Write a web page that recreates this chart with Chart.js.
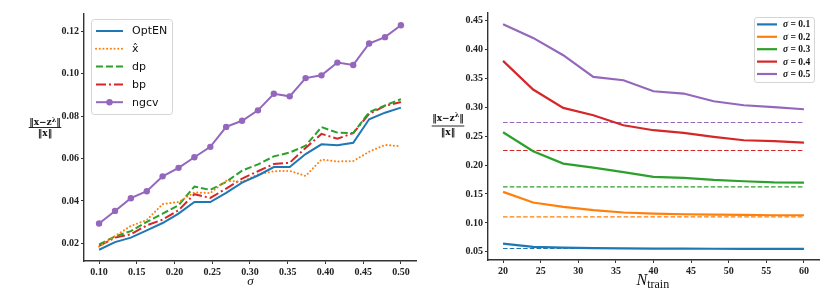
<!DOCTYPE html>
<html><head><meta charset="utf-8">
<script src="https://cdn.jsdelivr.net/npm/chart.js@4.4.1/dist/chart.umd.min.js"></script>
<style>
html,body{margin:0;padding:0;background:#fff;width:832px;height:295px;overflow:hidden}
#c1{position:absolute;left:0;top:0}
#c2{position:absolute;left:420px;top:0}
</style></head><body>
<canvas id="c1" width="420" height="295"></canvas>
<canvas id="c2" width="412" height="295"></canvas>
<script>
// ---------- Left panel data ----------
const sigmaValues = [0.1,0.1211,0.1421,0.1632,0.1842,0.2053,0.2263,0.2474,0.2684,0.2895,0.3105,0.3316,0.3526,0.3737,0.3947,0.4158,0.4368,0.4579,0.4789,0.5];
const optEN = [0.0170,0.0206,0.0227,0.0261,0.0296,0.0340,0.0395,0.0395,0.0438,0.0486,0.0520,0.0560,0.0560,0.0621,0.0667,0.0663,0.0674,0.0785,0.0816,0.0840];
const xHat  = [0.0185,0.0235,0.0282,0.0310,0.0385,0.0395,0.0440,0.0437,0.0495,0.0490,0.0525,0.0540,0.0542,0.0518,0.0595,0.0586,0.0588,0.0632,0.0664,0.0658];
const dp    = [0.0195,0.0233,0.0258,0.0301,0.0340,0.0380,0.0468,0.0452,0.0490,0.0543,0.0572,0.0610,0.0628,0.0660,0.0748,0.0722,0.0720,0.0818,0.0850,0.0880];
const bp    = [0.0188,0.0227,0.0243,0.0285,0.0312,0.0356,0.0432,0.0414,0.0458,0.0505,0.0540,0.0574,0.0580,0.0650,0.0716,0.0693,0.0720,0.0810,0.0848,0.0866];
const ngcv  = [0.0294,0.0353,0.0413,0.0446,0.0516,0.0556,0.0606,0.0655,0.0749,0.0778,0.0827,0.0905,0.0893,0.0979,0.0992,0.1052,0.1041,0.1142,0.1172,0.1228];
const leftSeriesLabels = ['OptEN','x\u0302','dp','bp','ngcv'];
const leftXTicks = [0.10,0.15,0.20,0.25,0.30,0.35,0.40,0.45,0.50];
const leftYTicks = [0.02,0.04,0.06,0.08,0.10,0.12];

// ---------- Right panel data ----------
const nTrain = [20,24,28,32,36,40,44,48,52,56,60];
const sig01 = [0.0644,0.0586,0.0575,0.0565,0.0560,0.0557,0.0555,0.0554,0.0553,0.0552,0.0552];
const sig02 = [0.1536,0.1352,0.1277,0.1220,0.1180,0.1162,0.1150,0.1145,0.1139,0.1133,0.1133];
const sig03 = [0.2566,0.2238,0.2025,0.1956,0.1876,0.1795,0.1778,0.1743,0.1720,0.1700,0.1697];
const sig04 = [0.3798,0.3303,0.2986,0.2860,0.2687,0.2601,0.2555,0.2486,0.2428,0.2411,0.2388];
const sig05 = [0.4431,0.4195,0.3896,0.3522,0.3464,0.3274,0.3234,0.3101,0.3032,0.3000,0.2963];
const baselines = [0.0558,0.1104,0.1622,0.2250,0.2733];
const rightSeriesLabels = ['0.1','0.2','0.3','0.4','0.5'];
const rightXTicks = [20,25,30,35,40,45,50,55,60];
const rightYTicks = [0.05,0.10,0.15,0.20,0.25,0.30,0.35,0.40,0.45];

const C = ['#1f77b4','#ff7f0e','#2ca02c','#d62728','#9467bd'];
const tickFont = {family:'"Liberation Serif", serif', size:10, weight:'bold'};
const pts = (xs, ys) => xs.map((x,i)=>({x:x, y:ys[i]}));

function axisCommon(ticksArr, fixed, isX, tickLen, pad){
  return {
    type:'linear',
    afterBuildTicks: s => { s.ticks = ticksArr.map(v=>({value:v})); },
    afterFit: s => { if(isX) s.height = fixed; else s.width = fixed; },
    grid:{drawOnChartArea:false, drawTicks:true, tickLength:tickLen, color:'#333', lineWidth:1},
    border:{display:true, color:'#333', width:1.4},
    ticks:{font:tickFont, color:'#222', padding:pad, autoSkip:false, maxRotation:0,
      callback: v => Number(v).toFixed(2)}
  };
}

function roundRect(ctx,x,y,w,h,r){
  ctx.beginPath();
  ctx.moveTo(x+r,y); ctx.lineTo(x+w-r,y); ctx.quadraticCurveTo(x+w,y,x+w,y+r);
  ctx.lineTo(x+w,y+h-r); ctx.quadraticCurveTo(x+w,y+h,x+w-r,y+h);
  ctx.lineTo(x+r,y+h); ctx.quadraticCurveTo(x,y+h,x,y+h-r);
  ctx.lineTo(x,y+r); ctx.quadraticCurveTo(x,y,x+r,y); ctx.closePath();
}

function drawFraction(ctx, cx, yNum, yLine, yDen){
  ctx.fillStyle = '#111'; ctx.strokeStyle = '#111';
  const f = 'bold 9px "DejaVu Serif", serif';
  const fs = 'bold 6.5px "DejaVu Serif", serif';
  ctx.textBaseline = 'alphabetic';
  const a = '\u2016x\u2212z', b = '\u03bb', c = '\u2016';
  ctx.font = f; const wa = ctx.measureText(a).width, wc = ctx.measureText(c).width;
  ctx.font = fs; const wb = ctx.measureText(b).width;
  let x = cx - (wa+wb+wc)/2;
  ctx.textAlign='left';
  ctx.font = f; ctx.fillText(a, x, yNum); x += wa;
  ctx.font = fs; ctx.fillText(b, x, yNum-3.5); x += wb;
  ctx.font = f; ctx.fillText(c, x, yNum);
  const total = wa+wb+wc+1;
  ctx.lineWidth = 0.9;
  ctx.beginPath(); ctx.moveTo(cx-total/2, yLine); ctx.lineTo(cx+total/2, yLine); ctx.stroke();
  ctx.textAlign='center';
  ctx.font = f; ctx.fillText('\u2016x\u2016', cx, yDen);
}

// ---------- Left chart ----------
const leftStyles = [
  {data:optEN, dash:[], cap:'butt', marker:false},
  {data:xHat, dash:[0.1,3.6], cap:'round', marker:false},
  {data:dp, dash:[7,3], cap:'butt', marker:false},
  {data:bp, dash:[10,3,2,3], cap:'butt', marker:false},
  {data:ngcv, dash:[], cap:'butt', marker:true}
];
const leftDatasets = leftStyles.map((s,i)=>({
  label:leftSeriesLabels[i], data:pts(sigmaValues, s.data), borderColor:C[i], backgroundColor:C[i],
  borderWidth:2, borderDash:s.dash, borderCapStyle:s.cap, tension:0,
  pointRadius: s.marker?3.2:0, pointBackgroundColor:C[i], pointBorderWidth:0, fill:false
}));

const leftDeco = {id:'leftDeco', afterDraw(chart){
  const ctx = chart.ctx; ctx.save();
  roundRect(ctx, 91.5, 19.5, 81, 95, 3);
  ctx.fillStyle='rgba(255,255,255,0.85)'; ctx.fill();
  ctx.strokeStyle='#d5d5d5'; ctx.lineWidth=1; ctx.stroke();
  const ys = [31,48.8,66.6,84.4,102.2];
  leftStyles.forEach((s,i)=>{
    ctx.strokeStyle = C[i]; ctx.lineWidth = 2; ctx.setLineDash(s.dash); ctx.lineCap = s.cap;
    ctx.beginPath(); ctx.moveTo(96, ys[i]); ctx.lineTo(123, ys[i]); ctx.stroke();
    ctx.setLineDash([]); ctx.lineCap='butt';
    if(s.marker){ ctx.fillStyle=C[i]; ctx.beginPath(); ctx.arc(109.5, ys[i], 3.2, 0, 2*Math.PI); ctx.fill(); }
    ctx.fillStyle='#111'; ctx.font='11px "DejaVu Sans", sans-serif'; ctx.textAlign='left'; ctx.textBaseline='middle';
    ctx.fillText(leftSeriesLabels[i], 132, ys[i]+0.5);
  });
  drawFraction(ctx, 45, 125, 127.5, 136);
  ctx.fillStyle='#111'; ctx.font='italic 13px "Liberation Serif", serif'; ctx.textAlign='center'; ctx.textBaseline='alphabetic';
  ctx.fillText('\u03c3', 250.5, 285);
  ctx.restore();
}};

new Chart(document.getElementById('c1'), {
  type:'line',
  data:{datasets:leftDatasets},
  options:{
    responsive:false, animation:false, devicePixelRatio:1,
    layout:{padding:{left:0, top:14, right:4, bottom:0}},
    plugins:{legend:{display:false}, tooltip:{enabled:false}},
    scales:{
      x: Object.assign(axisCommon(leftXTicks, 34, true, 3, 2), {min:0.08, max:0.52}),
      y: Object.assign(axisCommon(leftYTicks, 84, false, 3, 2), {min:0.0117, max:0.1281})
    }
  },
  plugins:[leftDeco]
});

// ---------- Right chart ----------
const rightSeries = [sig01, sig02, sig03, sig04, sig05];
const rightDatasets = [];
rightSeries.forEach((s,i)=>{
  rightDatasets.push({label:'\u03c3 = '+rightSeriesLabels[i], data:pts(nTrain, s), borderColor:C[i],
    borderWidth:2.2, pointRadius:0, tension:0, fill:false});
});
baselines.forEach((b,i)=>{
  rightDatasets.push({label:'base '+rightSeriesLabels[i], data:[{x:nTrain[0],y:b},{x:nTrain[nTrain.length-1],y:b}],
    borderColor:C[i], borderWidth:1.1, borderDash:[4.5,2.2], pointRadius:0, tension:0, fill:false});
});

const rightDeco = {id:'rightDeco', afterDraw(chart){
  const ctx = chart.ctx; ctx.save();
  roundRect(ctx, 334.5, 17.5, 60, 65, 2.5);
  ctx.fillStyle='rgba(255,255,255,0.85)'; ctx.fill();
  ctx.strokeStyle='#d5d5d5'; ctx.lineWidth=1; ctx.stroke();
  const ys = [24.4,36.8,49.2,61.6,74];
  rightSeriesLabels.forEach((lab,i)=>{
    ctx.strokeStyle=C[i]; ctx.lineWidth=2.2;
    ctx.beginPath(); ctx.moveTo(337, ys[i]); ctx.lineTo(357, ys[i]); ctx.stroke();
    ctx.fillStyle='#111'; ctx.textBaseline='middle'; ctx.textAlign='left';
    ctx.font='italic bold 9.5px "Liberation Serif", serif';
    ctx.fillText('\u03c3', 363, ys[i]+0.5);
    const w = ctx.measureText('\u03c3').width;
    ctx.font='bold 9.5px "Liberation Serif", serif';
    ctx.fillText(' = ' + lab, 363+w, ys[i]+0.5);
  });
  drawFraction(ctx, 28, 120.5, 126, 134.5);
  ctx.fillStyle='#111'; ctx.textBaseline='alphabetic'; ctx.textAlign='left';
  ctx.font='italic 16px "Liberation Serif", serif';
  ctx.fillText('N', 216.5, 285);
  const wN = ctx.measureText('N').width;
  ctx.font='12px "Liberation Serif", serif';
  ctx.fillText('train', 216.5+wN, 288);
  ctx.restore();
}};

const rx = axisCommon(rightXTicks, 35, true, 3, 2);
rx.ticks.callback = v => String(v);
new Chart(document.getElementById('c2'), {
  type:'line',
  data:{datasets:rightDatasets},
  options:{
    responsive:false, animation:false, devicePixelRatio:1,
    layout:{padding:{left:0, top:13, right:13, bottom:0}},
    plugins:{legend:{display:false}, tooltip:{enabled:false}},
    scales:{
      x: Object.assign(rx, {min:18, max:62}),
      y: Object.assign(axisCommon(rightYTicks, 68, false, 3, 2), {min:0.0360, max:0.4625})
    }
  },
  plugins:[rightDeco]
});
</script>
</body></html>
